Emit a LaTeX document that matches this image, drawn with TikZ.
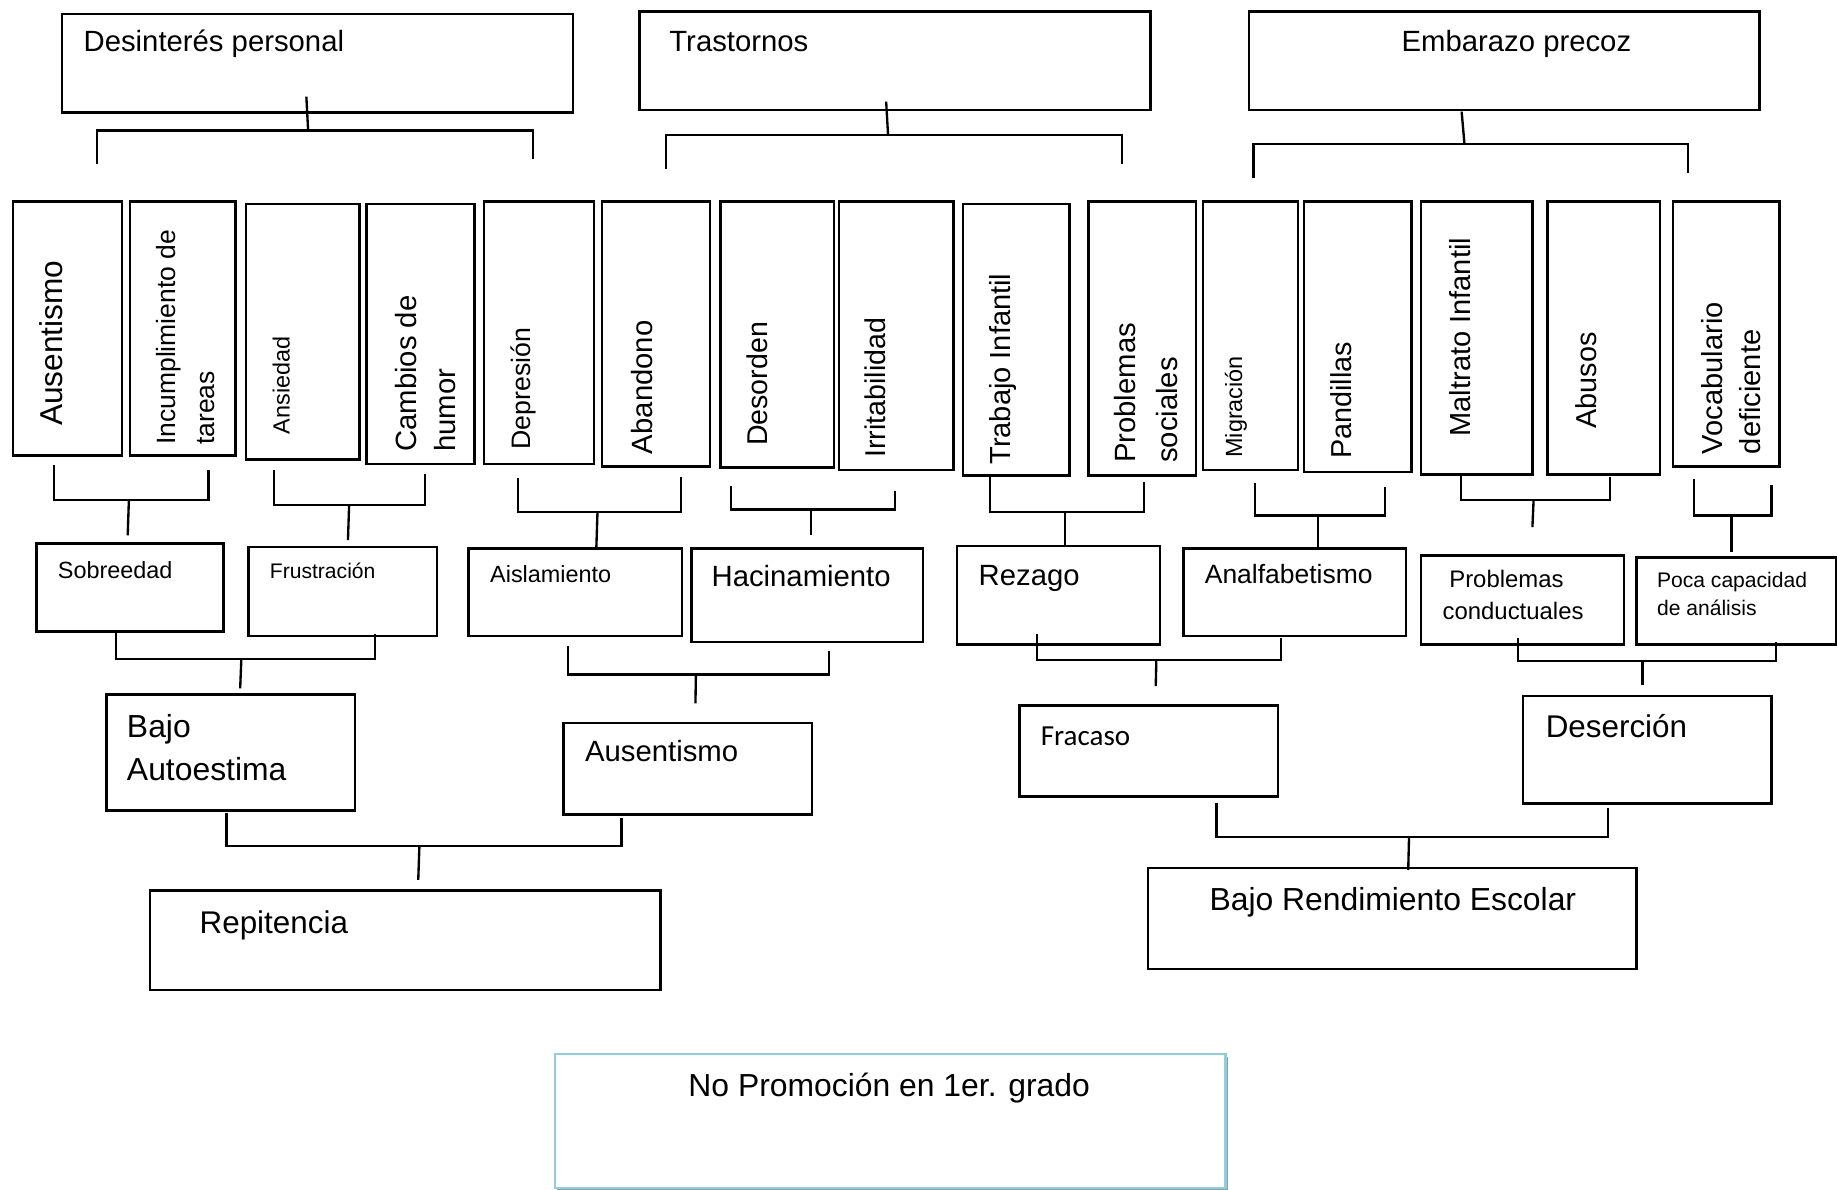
\documentclass[tikz,border=0pt]{standalone}
\usepackage{fontspec}
\setmainfont{Liberation Sans}
\newfontfamily\carlito{Carlito}
\usetikzlibrary{calc,shadows}

\definecolor{celeste}{RGB}{146,205,220}
\definecolor{sombra}{RGB}{120,150,165}

% caja vacia: nombre, x1, y1, x2, y2 (en pixeles de la imagen)
\newcommand{\ponercaja}[6][caja]{%
  \node[#1, minimum width={(#5-#3)*0.5pt}, minimum height={(#6-#4)*0.5pt}] (#2) at ({(#3+#5)/2},{(#4+#6)/2}) {};}

\begin{document}
\begin{tikzpicture}[x=0.5pt, y=-0.5pt,
    caja/.style={draw, line width=1.1pt, inner sep=0pt, outer sep=0pt},
    cajaazul/.style={draw=celeste, line width=0.9pt, fill=white, inner sep=0pt, outer sep=0pt,
      drop shadow={shadow xshift=0.9pt, shadow yshift=-0.9pt, fill=sombra, opacity=0.9}},
    linea/.style={line width=1pt},
    fs/.style 2 args={font=\fontsize{#1}{#2}\selectfont},
    vtexto/.style={rotate=90, anchor=west, inner sep=0pt, align=left},
    htexto/.style={anchor=base west, inner sep=0pt},
    mtexto/.style={anchor=north west, inner sep=0pt, align=left}]
    \useasboundingbox (0,0) rectangle (1568,1015);

    % causas principales
    \ponercaja{des}{53}{12}{489}{96}
    \ponercaja{tra}{546}{10}{982}{94}
    \ponercaja{emb}{1066}{10}{1502}{94}
    \node[htexto, fs={12.5}{15}] (desT) at (71,44) {Desinterés personal};
    \node[htexto, fs={12.5}{15}] (traT) at (571,44) {Trastornos};
    \node[htexto, fs={12.5}{15}] (embT) at (1196,44) {Embarazo precoz};

    % fila de cajas verticales
    \ponercaja{ausV}{11}{172}{104}{389}
    \ponercaja{incV}{111}{172}{201}{389}
    \ponercaja{ansV}{210}{174}{307}{392}
    \ponercaja{camV}{313}{174}{405}{396}
    \ponercaja{depV}{413}{172}{507}{396}
    \ponercaja{abaV}{514}{172}{606}{398}
    \ponercaja{desV}{615}{172}{712}{399}
    \ponercaja{irrV}{716}{172}{814}{401}
    \ponercaja{traV}{822}{174}{913}{406}
    \ponercaja{proV}{929}{172}{1021}{406}
    \ponercaja{migV}{1027}{172}{1108}{401}
    \ponercaja{panV}{1113}{172}{1205}{403}
    \ponercaja{malV}{1213}{172}{1308}{405}
    \ponercaja{abuV}{1321}{172}{1417}{405}
    \ponercaja{vocV}{1428}{172}{1519}{398}
    \node[vtexto, fs={13.5}{16}] (ausVT) at (44,364) {Ausentismo};
    \node[vtexto, fs={11.3}{16.8}] (incVT) at (158.6,380) {Incumplimiento de\\tareas};
    \node[vtexto, fs={10}{12}] (ansVT) at (240,371) {Ansiedad};
    \node[vtexto, fs={12.5}{16.8}] (camVT) at (363,386) {Cambios de\\humor};
    \node[vtexto, fs={11.4}{14}] (depVT) at (447,384) {Depresión};
    \node[vtexto, fs={12.5}{15}] (abaVT) at (548,388) {Abandono};
    \node[vtexto, fs={12.2}{15}] (desVT) at (646,381) {Desorden};
    \node[vtexto, fs={12.2}{15}] (irrVT) at (747,391) {Irritabilidad};
    \node[vtexto, fs={12.4}{15}] (traVT) at (856,397) {Trabajo Infantil};
    \node[vtexto, fs={12.5}{18}] (proVT) at (978,395.5) {Problemas\\sociales};
    \node[vtexto, fs={10}{12}] (migVT) at (1055,391) {Migración};
    \node[vtexto, fs={12.3}{15}] (panVT) at (1145,392) {Pandillas};
    \node[vtexto, fs={12.4}{15}] (malVT) at (1246,373) {Maltrato Infantil};
    \node[vtexto, fs={12.3}{15}] (abuVT) at (1354,366) {Abusos};
    \node[vtexto, fs={12.4}{16.5}] (vocVT) at (1477.5,388) {Vocabulario\\deficiente};

    % efectos intermedios
    \ponercaja{sob}{31}{464}{191}{539}
    \ponercaja{fru}{212}{467}{373}{543}
    \ponercaja{ais}{400}{468}{582}{543}
    \ponercaja{hac}{590}{468}{788}{548}
    \ponercaja{rez}{817}{466}{990}{550}
    \ponercaja{ana}{1010}{468}{1200}{543}
    \ponercaja{pcd}{1213}{474}{1386}{550}
    \ponercaja{poc}{1397}{476}{1567}{550}
    \node[htexto, fs={10}{12}] (sobT) at (49,494) {Sobreedad};
    \node[htexto, fs={9}{11}] (fruT) at (230,494) {Frustración};
    \node[htexto, fs={10}{12}] (aisT) at (418,497) {Aislamiento};
    \node[htexto, fs={12.5}{15}] (hacT) at (607,501) {Hacinamiento};
    \node[htexto, fs={12.5}{15}] (rezT) at (835,499.5) {Rezago};
    \node[htexto, fs={11.3}{14}] (anaT) at (1028,498) {Analfabetismo};
    \node[mtexto, fs={10.2}{13.55}] (pcdT) at (1231,486.6) {~Problemas\\conductuales};
    \node[mtexto, fs={9}{11.85}] (pocT) at (1414,488.3) {Poca capacidad\\de análisis};

    \ponercaja{baj}{91}{593}{303}{692}
    \ponercaja{au2}{481}{617}{693}{695}
    \ponercaja{fra}{870}{602}{1091}{680}
    \ponercaja{der}{1300}{594}{1512}{686}
    \node[mtexto, fs={13.6}{18.45}] (bajT) at (108,609) {Bajo\\Autoestima};
    \node[htexto, fs={12.5}{15}] (au2T) at (499,650) {Ausentismo};
    \node[htexto, font=\carlito\fontsize{12.4}{15}\selectfont] (fraT) at (888,636) {Fracaso};
    \node[htexto, fs={13.4}{16}] (derT) at (1319,629.5) {Deserción};

    \ponercaja{rep}{128}{760}{564}{845}
    \ponercaja{bre}{980}{741}{1397}{827}
    \node[htexto, fs={13.4}{16}] (repT) at (170,797) {Repitencia};
    \node[htexto, fs={13.6}{16}] (breT) at (1032,777.5) {Bajo Rendimiento Escolar};

    % problema central
    \ponercaja[cajaazul]{npr}{474}{900}{1046}{1014}
    \node[anchor=base, inner sep=0pt, fs={13.6}{16}] (nprT) at (759,936) {No Promoción en 1er. grado};

    % llaves de arriba
    \draw[linea] ($(des.south)+(-9.5,-13.5)$) -- ($(des.south)+(-8,15.5)$);
    \draw[linea] ($(ausV.north)+(25.5,-32)$) |- ($(depV.north)+(-5,-60.5)$) -- ++(0,24.5);
    \draw[linea] ($(tra.south)+(-7.6,-7.2)$) -- ($(tra.south)+(-6,21.2)$);
    \draw[linea] ($(abaV.north)+(8.5,-27.4)$) |- ($(proV.north)+(-17.4,-56.8)$) -- ++(0,24.8);
    \draw[linea] ($(emb.south)+(-36.4,1.3)$) -- ($(emb.south)+(-34,28.9)$);
    \draw[linea] ($(migV.north)+(2.3,-19.8)$) |- ($(vocV.north)+(-32.8,-49.1)$) -- ++(0,25.1);

    % llaves bajo las cajas verticales
    \draw[linea] ($(ausV.south)+(-11.5,8)$) |- ($(incV.south)+(22,38)$) -- ++(0,-26);
    \draw[linea] ($(sob.north)+(-1,-37)$) -- ($(sob.north)+(-2,-7)$);
    \draw[linea] ($(ansV.south)+(-24.5,9)$) |- ($(camV.south)+(4,35)$) -- ++(0,-26);
    \draw[linea] ($(fru.north)+(5.5,-36)$) -- ($(fru.north)+(4.5,-6)$);
    \draw[linea] ($(depV.south)+(-18,12)$) |- ($(abaV.south)+(21,39)$) -- ++(0,-30);
    \draw[linea] ($(ais.north)+(19,-31)$) -- ($(ais.north)+(18,0)$);
    \draw[linea] ($(desV.south)+(-39.5,16)$) |- ($(irrV.south)+(-1,34)$) -- ++(0,-16);
    \draw[linea] ($(hac.north)+(3,-33)$) -- ($(hac.north)+(3,-11)$);
    \draw[linea] ($(traV.south)+(-22.5,1)$) |- ($(proV.south)+(1.5,31)$) -- ++(0,-26);
    \draw[linea] ($(rez.north)+(5.5,-29)$) -- ($(rez.north)+(5.5,0)$);
    \draw[linea] ($(migV.south)+(3.5,11)$) |- ($(panV.south)+(23,37)$) -- ++(0,-24);
    \draw[linea] ($(ana.north)+(20,-28)$) -- ($(ana.north)+(20,0)$);
    \draw[linea] ($(malV.south)+(-13.5,0.5)$) |- ($(abuV.south)+(5,22)$) -- ++(0,-20);
    \draw[linea] ($(pcd.north)+(9.5,-47)$) -- ($(pcd.north)+(8.5,-24)$);
    \draw[linea] ($(vocV.south)+(-27.5,11)$) |- ($(vocV.south)+(38.5,42)$) -- ++(0,-26);
    \draw[linea] ($(poc.north)+(-4,-36)$) -- ($(poc.north)+(-4,-5)$);

    % llaves del tercer nivel
    \draw[linea] ($(sob.south)+(-12,-1)$) |- ($(fru.south)+(27.5,19.5)$) -- ++(0,-21.5);
    \draw[linea] ($(baj.north)+(9,-30.5)$) -- ($(baj.north)+(8,-5.4)$);
    \draw[linea] ($(ais.south)+(-6,8.4)$) |- ($(hac.south)+(18.7,27.6)$) -- ++(0,-20.2);
    \draw[linea] ($(au2.north)+(7,-41.4)$) -- ($(au2.north)+(6.6,-16.6)$);
    \draw[linea] ($(rez.south)+(-18.5,-9)$) |- ($(ana.south)+(-11.5,20.4)$) -- ++(0,-18.4);
    \draw[linea] ($(fra.north)+(6.5,-38.6)$) -- ($(fra.north)+(6,-16.4)$);
    \draw[linea] ($(pcd.south)+(-4,-5.7)$) |- ($(poc.south)+(34,14)$) -- ++(0,-16.3);
    \draw[linea] ($(der.north)+(-4,-30)$) -- ($(der.north)+(-4,-9)$);

    % llaves del cuarto nivel
    \draw[linea] ($(baj.south)+(-3.6,1.7)$) |- ($(au2.south)+(-56.6,26.9)$) -- ++(0,-23.4);
    \draw[linea] ($(rep.north)+(12,-38)$) -- ($(rep.north)+(11,-9)$);
    \draw[linea] ($(fra.south)+(57.8,5.7)$) |- ($(der.south)+(-33.4,28.2)$) -- ++(0,-24.2);
    \draw[linea] ($(bre.north)+(14.2,-26.8)$) -- ($(bre.north)+(13.5,1.6)$);
\end{tikzpicture}
\end{document}
